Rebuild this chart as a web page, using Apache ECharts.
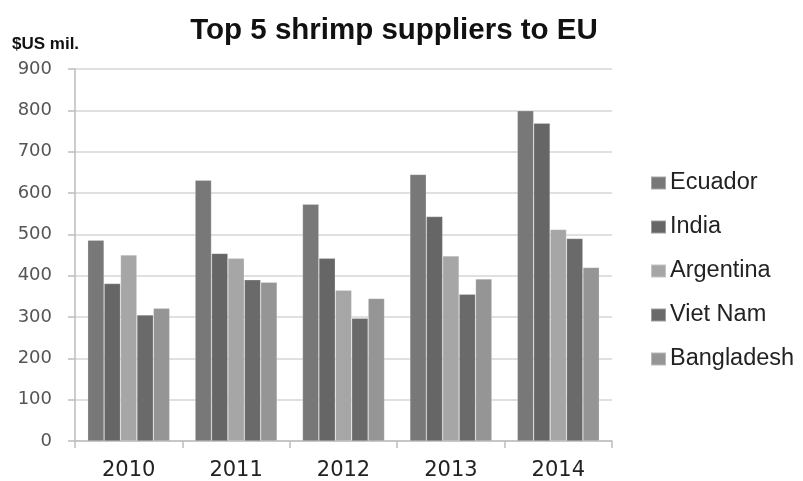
<!DOCTYPE html>
<html>
<head>
<meta charset="utf-8">
<script src="https://cdn.jsdelivr.net/npm/echarts@6/dist/echarts.min.js"></script>
<style>
  html, body { margin: 0; padding: 0; background: #fff; }
  #chart { width: 803px; height: 481px; }
</style>
</head>
<body>
<div id="chart"></div>
<script>
// Shrimp exports to the EU by supplier, $US million
const years = ['2010', '2011', '2012', '2013', '2014'];
const ecuador    = [486, 631, 573, 645, 799];
const india      = [381, 454, 442, 543, 769];
const argentina  = [450, 442, 365, 448, 512];
const vietNam    = [305, 390, 297, 355, 490];
const bangladesh = [321, 384, 345, 392, 420];
const yTicks = [0, 100, 200, 300, 400, 500, 600, 700, 800, 900];

const seriesDefs = [
  { name: 'Ecuador',    data: ecuador,    color: '#787878' },
  { name: 'India',      data: india,      color: '#666666' },
  { name: 'Argentina',  data: argentina,  color: '#a6a6a6' },
  { name: 'Viet Nam',   data: vietNam,    color: '#6a6a6a' },
  { name: 'Bangladesh', data: bangladesh, color: '#959595' }
];

const chart = echarts.init(document.getElementById('chart'), null, { renderer: 'canvas' });

chart.setOption({
  animation: false,
  backgroundColor: '#ffffff',
  title: [
    {
      text: 'Top 5 shrimp suppliers to EU',
      left: 389, top: 11, textAlign: 'center',
      textStyle: { fontFamily: 'Liberation Sans', fontWeight: 'bold', fontSize: 29.5, color: '#111' }
    },
    {
      text: '$US mil.',
      left: 7, top: 31,
      textStyle: { fontFamily: 'Liberation Sans', fontWeight: 'bold', fontSize: 17, color: '#111' }
    }
  ],
  legend: {
    orient: 'vertical',
    left: 645, top: 166,
    itemWidth: 15, itemHeight: 13,
    itemGap: 20,
    icon: 'rect',
    textStyle: { fontFamily: 'Liberation Sans', fontSize: 23.5, color: '#222', lineHeight: 23, padding: [0, 0, 0, -1] },
    data: seriesDefs.map(s => s.name)
  },
  grid: { left: 75, right: 191, top: 69, bottom: 40, containLabel: false },
  xAxis: {
    type: 'category',
    data: years,
    axisLine: { lineStyle: { color: '#bdbdbd', width: 1.5 } },
    axisTick: { show: true, length: 7, lineStyle: { color: '#bdbdbd', width: 1.5 } },
    axisLabel: { fontFamily: 'DejaVu Sans', fontSize: 21, color: '#222', margin: 19 }
  },
  yAxis: {
    type: 'value',
    min: yTicks[0], max: yTicks[yTicks.length - 1], interval: 100,
    axisLine: { show: true, lineStyle: { color: '#bdbdbd', width: 1.5 } },
    axisTick: { show: true, length: 7, lineStyle: { color: '#bdbdbd', width: 1.5 } },
    axisLabel: { fontFamily: 'DejaVu Sans', fontSize: 18, color: '#555', margin: 23, padding: [4, 0, 0, 0] },
    splitLine: { lineStyle: { color: '#d6d6d6', width: 1.5 } }
  },
  series: seriesDefs.map(s => ({
    name: s.name,
    type: 'bar',
    data: s.data,
    barGap: '0%',
    barCategoryGap: '23.6%',
    itemStyle: { color: s.color, borderColor: 'rgba(255,255,255,0.35)', borderWidth: 0.6 }
  }))
});
</script>
</body>
</html>
